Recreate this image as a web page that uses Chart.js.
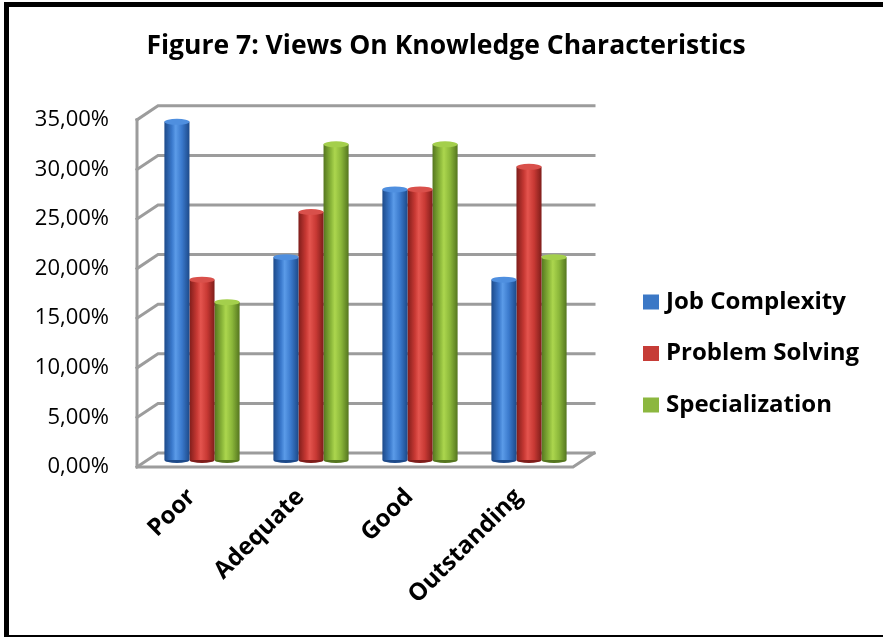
<!DOCTYPE html>
<html>
<head>
<meta charset="utf-8">
<script src="https://cdn.jsdelivr.net/npm/chart.js@4.4.1/dist/chart.umd.min.js"></script>
<style>
    html, body { margin: 0; padding: 0; background: #fff; }
    #frame {
        position: absolute; left: 4px; top: 2px;
        width: 874px; height: 628px;
        border-top: 5px solid #000; border-left: 5px solid #000; border-bottom: 2px solid #000;
        background: #fff;
    }
    #chart { display: block; }
</style>
</head>
<body>
<div id="frame"><canvas id="chart" width="874" height="628"></canvas></div>
<script>
// data (percent)
var categories = ["Poor", "Adequate", "Good", "Outstanding"];
var seriesNames = ["Job Complexity", "Problem Solving", "Specialization"];
var jobComplexity = [34.09, 20.45, 27.27, 18.18];
var problemSolving = [18.18, 25.00, 27.27, 29.55];
var specialization = [15.91, 31.82, 31.82, 20.45];
var yTicks = [0, 5, 10, 15, 20, 25, 30, 35];

// light / dark shade per series
var shades = [
    { light: "#5b9be8", mid: "#3a79cc", dark: "#1d4a8a", cap: "#4f8fdf", key: "#3b78c6" },
    { light: "#e4544e", mid: "#c83934", dark: "#7f1d1a", cap: "#d9504b", key: "#c63c37" },
    { light: "#acd64e", mid: "#8bb73a", dark: "#55761f", cap: "#a4cf4c", key: "#8cb73f" }
];

var FONT = "'Open Sans'";
var CAT_PCT = 0.69;
var DEPTH_X = 21, DEPTH_Y = 14;

function pct(v) {
    return v.toFixed(2).replace(".", ",") + "%";
}

function cylinderFill(c) {
    var s = shades[c.datasetIndex];
    var xs = c.chart.scales.x;
    if (!xs || c.dataIndex === undefined || !isFinite(xs.width)) return s.mid;
    var w = xs.width / categories.length * CAT_PCT / seriesNames.length;
    var cx = xs.getPixelForValue(c.dataIndex) + (c.datasetIndex - 1) * w;
    var g = c.chart.ctx.createLinearGradient(cx - w / 2, 0, cx + w / 2, 0);
    g.addColorStop(0, s.dark);
    g.addColorStop(0.3, s.mid);
    g.addColorStop(0.45, s.light);
    g.addColorStop(0.7, s.mid);
    g.addColorStop(1, s.dark);
    return g;
}

// back wall, floor and grid of the 3D box; bars are pushed half way back
var box3d = {
    id: "box3d",
    beforeDatasetsDraw: function (chart) {
        var ctx = chart.ctx, a = chart.chartArea, ys = chart.scales.y;
        ctx.save();
        ctx.lineCap = "square";
        ctx.lineJoin = "miter";
        ctx.strokeStyle = "#9c9c9c";
        ctx.lineWidth = 3;
        yTicks.forEach(function (v) {
            var y = ys.getPixelForValue(v);
            ctx.beginPath();
            ctx.moveTo(a.left, y);
            ctx.lineTo(a.left + DEPTH_X, y - DEPTH_Y);
            ctx.lineTo(a.right + DEPTH_X, y - DEPTH_Y);
            ctx.stroke();
        });
        // left wall front edge, floor front and right edge
        ctx.beginPath();
        ctx.moveTo(a.left, ys.getPixelForValue(35));
        ctx.lineTo(a.left, a.bottom);
        ctx.lineTo(a.right, a.bottom);
        ctx.lineTo(a.right + DEPTH_X, a.bottom - DEPTH_Y);
        ctx.stroke();
        ctx.restore();
        ctx.save();
        ctx.translate(DEPTH_X / 2, -DEPTH_Y / 2);
    },
    afterDatasetsDraw: function (chart) {
        var ctx = chart.ctx;
        chart.data.datasets.forEach(function (ds, i) {
            var s = shades[i];
            chart.getDatasetMeta(i).data.forEach(function (el) {
                var rx = el.width / 2, ry = 3;
                // bottom rim
                ctx.beginPath();
                ctx.ellipse(el.x, el.base, rx, ry, 0, 0, Math.PI);
                ctx.fillStyle = s.dark;
                ctx.fill();
                // top cap
                ctx.beginPath();
                ctx.ellipse(el.x, el.y, rx, ry, 0, 0, Math.PI * 2);
                ctx.fillStyle = s.cap;
                ctx.fill();
            });
        });
        ctx.restore();
    }
};

var sideLegend = {
    id: "sideLegend",
    afterDraw: function (chart) {
        var ctx = chart.ctx;
        ctx.save();
        ctx.font = "bold 24px " + FONT;
        ctx.textBaseline = "middle";
        ctx.textAlign = "left";
        chart.data.datasets.forEach(function (ds, i) {
            var y = 295 + i * 51.5;
            ctx.fillStyle = shades[i].key;
            ctx.fillRect(634, y - 7.5, 16, 15);
            ctx.fillStyle = "#000";
            ctx.fillText(ds.label, 657, y);
        });
        ctx.restore();
    }
};

var seriesData = [jobComplexity, problemSolving, specialization];

new Chart(document.getElementById("chart"), {
    type: "bar",
    data: {
        labels: categories,
        datasets: seriesNames.map(function (name, i) {
            return {
                label: name,
                data: seriesData[i],
                backgroundColor: cylinderFill,
                borderWidth: 0,
                categoryPercentage: CAT_PCT,
                barPercentage: 1,
                clip: false
            };
        })
    },
    options: {
        responsive: false,
        animation: false,
        events: [],
        layout: { padding: 0 },
        plugins: {
            legend: { display: false },
            tooltip: { enabled: false },
            title: {
                display: true,
                text: "Figure 7: Views On Knowledge Characteristics",
                color: "#000",
                font: { family: FONT, size: 26.5, weight: "bold" },
                padding: { top: 24, bottom: 57 }
            }
        },
        scales: {
            x: {
                grid: { display: false },
                border: { display: false },
                ticks: {
                    color: "#000",
                    font: { family: FONT, size: 24, weight: "bold" },
                    minRotation: 45,
                    maxRotation: 45,
                    padding: 8
                },
                afterFit: function (s) { s.height = 168; }
            },
            y: {
                min: 0,
                max: 35,
                grid: { display: false },
                border: { display: false },
                afterBuildTicks: function (s) {
                    s.ticks = yTicks.map(function (v) { return { value: v }; });
                },
                ticks: {
                    color: "#000",
                    font: { family: FONT, size: 22 },
                    padding: 20,
                    callback: function (v) { return pct(v); }
                },
                afterFit: function (s) { s.width = 128; }
            },
            // empty space on the right that holds the legend
            side: {
                type: "linear",
                position: "right",
                grid: { display: false },
                border: { display: false },
                ticks: { display: false },
                afterFit: function (s) { s.width = 310; }
            }
        }
    },
    plugins: [box3d, sideLegend]
});
</script>
</body>
</html>
